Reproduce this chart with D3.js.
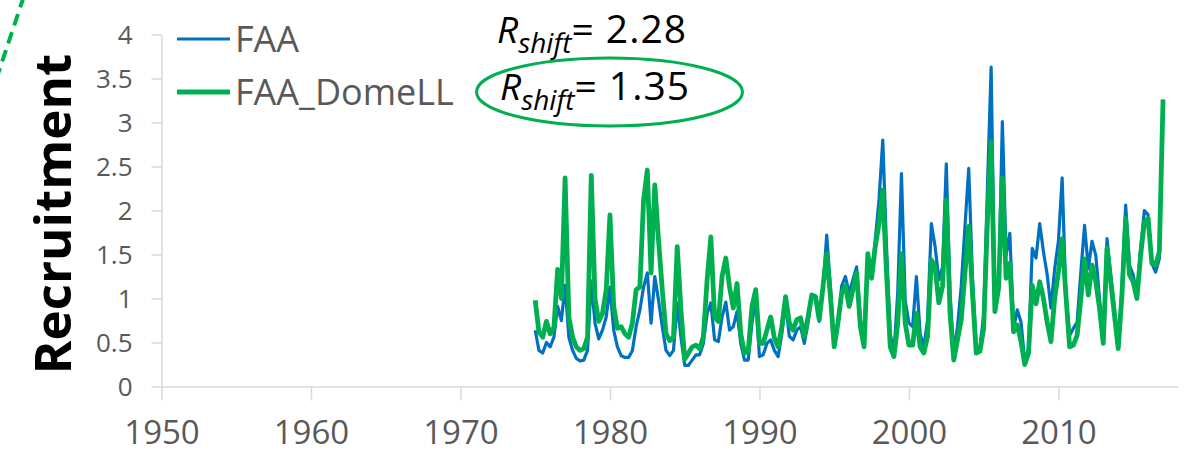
<!DOCTYPE html>
<html>

<head>
    <meta charset='utf-8'>
    <title>Recruitment</title>
    <script type='text/javascript' src='https://cdn.jsdelivr.net/npm/d3@7'></script>
    <style>
        body { margin: 0; background: #fff; }
        svg { display: block; }
    </style>
</head>

<body>
    <svg width='1192' height='455'></svg>
    <script type='text/javascript'>

        // quarterly series, first value at 1975.0
        const startYear = 1975
        const step = 0.25

        const faa = [
            0.64, 0.41, 0.38, 0.50, 0.45, 0.56, 0.91, 0.75, 1.15, 0.56,
            0.41, 0.32, 0.29, 0.30, 0.41, 1.20, 0.72, 0.54, 0.64, 0.79,
            1.13, 0.64, 0.45, 0.35, 0.33, 0.33, 0.41, 0.68, 0.87, 1.13,
            1.29, 0.72, 1.25, 0.98, 0.68, 0.41, 0.35, 0.41, 0.95, 0.56,
            0.24, 0.24, 0.30, 0.36, 0.36, 0.49, 0.83, 0.95, 0.53, 0.51,
            0.79, 0.96, 0.64, 0.68, 0.85, 0.49, 0.30, 0.30, 0.72, 1.00,
            0.34, 0.36, 0.49, 0.53, 0.41, 0.34, 0.60, 0.95, 0.57, 0.53,
            0.64, 0.68, 0.49, 0.72, 1.02, 1.00, 0.74, 1.13, 1.72, 1.13,
            0.49, 0.72, 1.14, 1.25, 1.06, 1.21, 1.36, 0.76, 0.49, 1.51,
            1.25, 1.67, 2.12, 2.80, 1.59, 0.60, 0.38, 1.06, 2.42, 0.98,
            0.72, 0.68, 1.25, 0.60, 0.45, 0.76, 1.85, 1.59, 1.21, 1.36,
            2.53, 1.06, 0.38, 0.68, 1.14, 1.82, 2.48, 1.25, 0.45, 0.45,
            0.81, 2.25, 3.63, 0.85, 1.12, 3.01, 1.49, 1.74, 0.66, 0.87,
            0.73, 0.28, 0.43, 1.57, 1.46, 1.85, 1.53, 1.27, 0.89, 1.34,
            1.65, 2.37, 1.04, 0.58, 0.66, 0.73, 1.30, 1.83, 1.34, 1.65,
            1.49, 1.00, 0.51, 1.68, 1.27, 0.89, 0.47, 1.12, 2.06, 1.38,
            1.27, 1.04, 1.57, 2.00, 1.95, 1.40, 1.30, 1.45, 3.26
        ]

        const faaDomeLL = [
            0.98, 0.62, 0.56, 0.74, 0.60, 0.67, 1.33, 1.00, 2.37, 0.79,
            0.56, 0.45, 0.41, 0.43, 0.56, 2.40, 1.00, 0.74, 0.83, 1.10,
            1.95, 0.91, 0.66, 0.68, 0.60, 0.56, 0.72, 1.10, 1.13, 2.12,
            2.46, 1.29, 2.29, 1.66, 1.10, 0.60, 0.52, 0.56, 1.59, 0.87,
            0.31, 0.38, 0.45, 0.47, 0.43, 0.57, 1.21, 1.70, 0.79, 0.74,
            1.25, 1.46, 1.13, 0.89, 1.17, 0.60, 0.38, 0.40, 0.91, 1.10,
            0.49, 0.49, 0.64, 0.79, 0.55, 0.45, 0.68, 1.02, 0.72, 0.64,
            0.76, 0.78, 0.57, 0.79, 1.04, 1.02, 0.76, 1.13, 1.51, 1.02,
            0.45, 0.72, 1.06, 1.14, 0.91, 1.10, 1.29, 0.68, 0.45, 1.51,
            1.23, 1.59, 1.85, 2.23, 1.29, 0.45, 0.34, 0.72, 1.51, 0.72,
            0.47, 0.47, 0.83, 0.45, 0.38, 0.57, 1.44, 1.36, 0.95, 1.14,
            2.12, 0.83, 0.30, 0.53, 0.76, 1.29, 1.82, 1.06, 0.38, 0.40,
            0.66, 1.87, 2.78, 0.85, 1.12, 2.37, 1.23, 1.40, 0.62, 0.70,
            0.51, 0.25, 0.38, 1.15, 0.94, 1.19, 1.00, 0.73, 0.51, 1.00,
            1.30, 1.68, 1.04, 0.45, 0.47, 0.58, 1.00, 1.45, 1.04, 1.38,
            1.19, 0.89, 0.49, 1.57, 1.19, 0.81, 0.43, 1.04, 1.91, 1.27,
            1.19, 1.00, 1.49, 1.87, 1.91, 1.40, 1.38, 1.53, 3.26
        ]

        const xTicks = [1950, 1960, 1970, 1980, 1990, 2000, 2010]
        const yTicks = [0, 0.5, 1, 1.5, 2, 2.5, 3, 3.5, 4]
        const seriesNames = ['FAA', 'FAA_DomeLL']
        const rshiftValues = ['2.28', '1.35']

        const blue = '#0070c0'
        const green = '#00b050'
        const axisGray = '#d9d9d9'
        const labelGray = '#595959'
        const font = "'Open Sans', sans-serif"

        const svg = d3.select('svg')

        const x = d3.scaleLinear().domain([1950, 2018]).range([161.5, 1178])
        const y = d3.scaleLinear().domain([0, 4]).range([386.5, 34.5])

        // axes
        const xAxis = svg.append('g')
            .attr('transform', `translate(0,${y(0)})`)
            .call(d3.axisBottom(x).tickValues(xTicks).tickFormat(d => d)
                .tickSize(14).tickSizeOuter(0).tickPadding(20))
        const yAxis = svg.append('g')
            .attr('transform', `translate(${x(1950)},0)`)
            .call(d3.axisLeft(y).tickValues(yTicks).tickFormat(d => d)
                .tickSize(10).tickSizeOuter(0).tickPadding(19))

        for (const g of [xAxis, yAxis]) {
            g.select('.domain').attr('stroke', axisGray).attr('stroke-width', 1.5)
            g.selectAll('.tick line').attr('stroke', axisGray).attr('stroke-width', 1.5)
            g.selectAll('.tick text').attr('fill', labelGray).attr('font-family', font)
        }
        xAxis.selectAll('.tick text').attr('font-size', 33)
        yAxis.selectAll('.tick text').attr('font-size', 26).attr('dy', '0.36em')

        // lines
        const line = d3.line()
            .x((d, i) => x(startYear + i * step))
            .y(d => y(d))

        svg.append('path')
            .attr('d', line(faa))
            .attr('fill', 'none')
            .attr('stroke', blue)
            .attr('stroke-width', 3.2)
            .attr('stroke-linejoin', 'round')

        svg.append('path')
            .attr('d', line(faaDomeLL))
            .attr('fill', 'none')
            .attr('stroke', green)
            .attr('stroke-width', 4.8)
            .attr('stroke-linejoin', 'round')

        // legend
        const legend = svg.append('g')
        const legendColors = [blue, green]
        const legendWidths = [3.2, 4.8]
        seriesNames.forEach((name, i) => {
            const ly = 39 + i * 53
            legend.append('line')
                .attr('x1', 177).attr('x2', 230)
                .attr('y1', ly).attr('y2', ly)
                .attr('stroke', legendColors[i])
                .attr('stroke-width', legendWidths[i])
            legend.append('text')
                .attr('x', 235).attr('y', ly)
                .attr('dy', '0.36em')
                .attr('font-family', font)
                .attr('font-size', 36)
                .attr('fill', labelGray)
                .text(name)
        })

        // y title
        svg.append('text')
            .attr('transform', 'translate(71,214) rotate(-90)')
            .attr('text-anchor', 'middle')
            .attr('font-family', font)
            .attr('font-weight', 'bold')
            .attr('font-size', 51)
            .attr('fill', '#000')
            .text('Recruitment')

        // R_shift annotations
        rshiftValues.forEach((v, i) => {
            const ty = 43 + i * 57
            const t = svg.append('text')
                .attr('x', 497 + i * 3).attr('y', ty)
                .attr('font-family', font)
                .attr('font-size', 37)
                .attr('fill', '#000')
            t.append('tspan').attr('font-style', 'italic').text('R')
            t.append('tspan').attr('font-style', 'italic').attr('font-size', 28)
                .attr('dy', 10).text('shift')
            t.append('tspan').attr('dy', -10).attr('font-size', 39)
                .attr('letter-spacing', 1).text('= ' + v)
        })

        svg.append('ellipse')
            .attr('cx', 609.5).attr('cy', 92)
            .attr('rx', 133).attr('ry', 34)
            .attr('fill', 'none')
            .attr('stroke', green)
            .attr('stroke-width', 3)

        // dashed callout line at the corner
        svg.append('line')
            .attr('x1', 24).attr('y1', -4)
            .attr('x2', -4).attr('y2', 80)
            .attr('stroke', green)
            .attr('stroke-width', 4)
            .attr('stroke-dasharray', '12,7')
    </script>
</body>

</html>
